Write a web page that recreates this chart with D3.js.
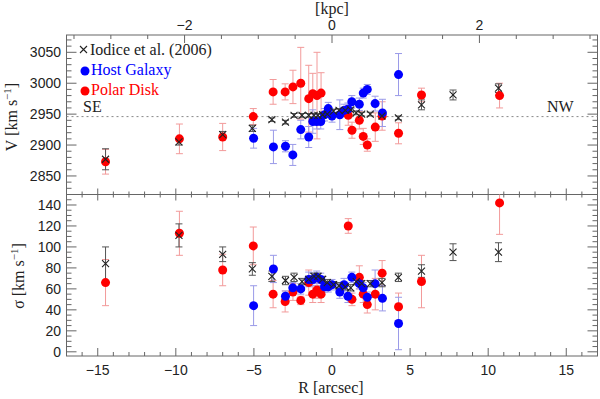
<!DOCTYPE html>
<html>
<head>
<meta charset="utf-8">
<script src="https://cdn.jsdelivr.net/npm/d3@7"></script>
<style>
  body { margin: 0; background: #fff; }
  svg { display: block; }
  .tick-label { font-family: "Liberation Sans", Arial, sans-serif; font-size: 14px; fill: #222; }
  .title { font-family: "Liberation Serif", "Times New Roman", serif; font-size: 16px; fill: #222; }
</style>
</head>
<body>
<svg width="600" height="399"></svg>
<script>
// Iodice et al. (2006)
const iodR      = [-14.5, -9.8, -7.0, -5.1, -3.85, -2.98, -2.43, -1.92, -1.49, -1.15, -0.9, -0.6, -0.3, 0.1, 0.45, 0.85, 1.2, 1.55, 1.9, 2.45, 3.2, 4.25, 5.73, 7.75, 10.66]
const iodV      = [2877, 2905, 2917, 2927, 2941, 2937, 2948, 2948, 2948, 2948, 2948, 2949, 2950, 2955, 2956, 2956, 2957, 2952, 2950, 2950, 2947, 2944, 2965, 2981, 2992]
const iodVerr   = [17, 5, 5, 5, 3, 3, 3, 3, 3, 3, 3, 3, 3, 3, 3, 3, 3, 3, 3, 3, 3, 3, 8, 8, 7]
const iodSig    = [84, 111, 93, 79, 72, 68, 71, 67, 69, 72, 72, 69, 66, 64, 63, 62, 61, 67, 65, 65, 66, 71, 77, 95, 95]
const iodSigErr = [16, 11, 7, 6, 5, 4, 4, 3, 3, 3, 3, 3, 3, 3, 3, 3, 3, 3, 3, 3, 4, 4, 6, 8, 9]

// host galaxy
const hostR      = [-5.02, -3.75, -2.98, -2.51, -2.0, -1.49, -1.23, -0.98, -0.72, -0.48, -0.24, 0.0, 0.5, 0.77, 1.02, 1.27, 1.75, 2.0, 2.26, 2.76, 3.23, 4.26]
const hostV      = [2911, 2897, 2898, 2884, 2925, 2913, 2938, 2938, 2938, 2949, 2959, 2947, 2949, 2956, 2958, 2970, 2966, 2984, 2990, 2967, 2952, 3014]
const hostVerr   = [16, 27, 9, 17, 15, 17, 19, 12, 12, 10, 10, 10, 24, 10, 10, 10, 10, 8, 8, 12, 22, 34]
const hostSig    = [44, 79, 53, 61, 60, 69, 69, 71, 69, 62, 62, 64, 57, 64, 53, 71, 65, 61, 52, 65, 51, 27]
const hostSigErr = [19, 13, 5, 5, 5, 7, 6, 6, 6, 5, 5, 5, 6, 6, 6, 5, 5, 5, 5, 13, 12, 25]

// polar disk
const polarR      = [-14.5, -9.77, -7.0, -5.04, -3.77, -3.0, -2.5, -2.0, -1.49, -1.23, -0.96, -0.7, 1.04, 1.28, 1.75, 2.0, 2.26, 2.77, 3.21, 4.26, 5.73, 10.73]
const polarV      = [2873, 2910, 2913, 2946, 2986, 2986, 2994, 3000, 2975, 2983, 2980, 2984, 2948, 2924, 2940, 2914, 2900, 2929, 2947, 2919, 2981, 2980]
const polarVerr   = [20, 24, 22, 13, 20, 13, 27, 58, 54, 33, 70, 33, 16, 13, 14, 13, 10, 23, 23, 17, 11, 20]
const polarSig    = [66, 113, 78, 101, 55, 48, 57, 49, 66, 55, 59, 55, 120, 50, 71, 55, 45, 55, 75, 43, 67, 142]
const polarSigErr = [22, 21, 15, 18, 13, 10, 8, 4, 12, 8, 8, 8, 7, 6, 11, 8, 8, 15, 12, 13, 25, 30]

const systemicV = 2946
const arcsecPerKpc = 4.72

const svg = d3.select("svg")
const plotL = 66.5, plotR = 597.5, plotT = 35, plotM = 194.5, plotB = 356

const x = d3.scaleLinear().domain([-17, 17]).range([plotL, plotR])
const xk = d3.scaleLinear().domain([-17 / arcsecPerKpc, 17 / arcsecPerKpc]).range([plotL, plotR])
const yV = d3.scaleLinear().domain([2820, 3078]).range([plotM, plotT])
const yS = d3.scaleLinear().domain([-4, 150]).range([plotB, plotM])

const frameColor = "#666"

// clip each panel
const defs = svg.append("defs")
defs.append("clipPath").attr("id", "clipV").append("rect")
  .attr("x", plotL).attr("y", plotT).attr("width", plotR - plotL).attr("height", plotM - plotT)
defs.append("clipPath").attr("id", "clipS").append("rect")
  .attr("x", plotL).attr("y", plotM).attr("width", plotR - plotL).attr("height", plotB - plotM)

// helper to draw inward ticks
function ticks(values, pos, len, vertical, base) {
  values.forEach(v => {
    const p = pos(v)
    if (vertical) svg.append("line").attr("x1", p).attr("x2", p).attr("y1", base).attr("y2", base + len)
      .attr("stroke", frameColor).attr("stroke-width", 1)
    else svg.append("line").attr("y1", p).attr("y2", p).attr("x1", base).attr("x2", base + len)
      .attr("stroke", frameColor).attr("stroke-width", 1)
  })
}

// frames
svg.append("rect").attr("x", plotL).attr("y", plotT).attr("width", plotR - plotL).attr("height", plotB - plotT)
  .attr("fill", "none").attr("stroke", frameColor)
svg.append("line").attr("x1", plotL).attr("x2", plotR).attr("y1", plotM).attr("y2", plotM).attr("stroke", frameColor)

// x ticks (arcsec)
const xMajor = d3.range(-15, 16, 5)
const xMinor = d3.range(-16, 17, 1).filter(v => v % 5 !== 0)
ticks(xMajor, x, -8, true, plotB)
ticks(xMinor, x, -4, true, plotB)
ticks(xMajor, x, -6, true, plotM)
ticks(xMinor, x, -3, true, plotM)
ticks(xMajor, x, 6, true, plotM)
ticks(xMinor, x, 3, true, plotM)
// top axis (kpc)
const kMajor = [-2, 0, 2]
const kMinor = d3.range(-3.5, 3.6, 0.5).filter(v => Math.abs(v % 2) > 0.01)
ticks(kMajor, xk, 8, true, plotT)
ticks(kMinor, xk, 4, true, plotT)

// y ticks
const vMajor = d3.range(2850, 3051, 50)
const vMinor = d3.range(2830, 3071, 10).filter(v => v % 50 !== 0)
const sMajor = d3.range(0, 141, 20)
const sMinor = d3.range(0, 146, 5).filter(v => v % 20 !== 0)
;[[plotL, 1], [plotR, -1]].forEach(([x0, d]) => {
  ticks(vMajor, yV, 10 * d, false, x0)
  ticks(vMinor, yV, 5 * d, false, x0)
  ticks(sMajor, yS, 10 * d, false, x0)
  ticks(sMinor, yS, 5 * d, false, x0)
})

// tick labels
svg.selectAll(".xl").data(xMajor).enter().append("text").attr("class", "tick-label")
  .attr("x", d => x(d)).attr("y", 375).attr("text-anchor", "middle")
  .text(d => d < 0 ? "\u2212" + Math.abs(d) : d)
svg.selectAll(".kl").data(kMajor).enter().append("text").attr("class", "tick-label")
  .attr("x", d => xk(d)).attr("y", 30).attr("text-anchor", "middle")
  .text(d => d < 0 ? "\u2212" + Math.abs(d) : d)
svg.selectAll(".vl").data(vMajor).enter().append("text").attr("class", "tick-label")
  .attr("x", 61).attr("y", d => yV(d) + 5).attr("text-anchor", "end").text(d => d)
svg.selectAll(".sl").data(sMajor).enter().append("text").attr("class", "tick-label")
  .attr("x", 61).attr("y", d => yS(d) + 5).attr("text-anchor", "end").text(d => d)

// titles
svg.append("text").attr("class", "title").attr("x", 331).attr("y", 393).attr("text-anchor", "middle").text("R [arcsec]")
svg.append("text").attr("class", "title").attr("font-size", 15).attr("x", 332).attr("y", 14).attr("text-anchor", "middle").text("[kpc]")

function kmsLabel(sym, cx, cy) {
  const t = svg.append("text").attr("class", "title").attr("text-anchor", "middle")
    .attr("transform", `translate(${cx},${cy}) rotate(-90)`)
  t.append("tspan").text(sym + " [km s")
  t.append("tspan").attr("dy", -6).attr("font-size", 11).text("\u22121")
  t.append("tspan").attr("dy", 6).text("]")
}
kmsLabel("V", 17, 117)
kmsLabel("\u03c3", 24, 276)

// systemic line
svg.append("line").attr("x1", plotL).attr("x2", plotR).attr("y1", yV(systemicV)).attr("y2", yV(systemicV))
  .attr("stroke", "#888").attr("stroke-dasharray", "2,3")
svg.append("text").attr("class", "title").attr("font-size", 14).attr("x", 83).attr("y", 112).text("SE")
svg.append("text").attr("class", "title").attr("font-size", 14).attr("x", 547).attr("y", 112).text("NW")

// data helpers
function errorBars(g, R, val, err, y, color) {
  R.forEach((r, i) => {
    const px = x(r), y1 = y(val[i] - err[i]), y2 = y(val[i] + err[i])
    g.append("line").attr("x1", px).attr("x2", px).attr("y1", y1).attr("y2", y2).attr("stroke", color)
    g.append("line").attr("x1", px - 3.5).attr("x2", px + 3.5).attr("y1", y1).attr("y2", y1).attr("stroke", color)
    g.append("line").attr("x1", px - 3.5).attr("x2", px + 3.5).attr("y1", y2).attr("y2", y2).attr("stroke", color)
  })
}
function dots(g, R, val, y, color) {
  g.selectAll(null).data(R).enter().append("circle")
    .attr("cx", d => x(d)).attr("cy", (d, i) => y(val[i])).attr("r", 4.5).attr("fill", color)
}
function crosses(g, R, val, y) {
  R.forEach((r, i) => {
    const px = x(r), py = y(val[i]), s = 3.5
    g.append("path").attr("d", `M${px - s},${py - s}L${px + s},${py + s}M${px - s},${py + s}L${px + s},${py - s}`)
      .attr("stroke", "#222").attr("stroke-width", 1.1)
  })
}

const panels = [
  ["clipV", yV, polarV, polarVerr, hostV, hostVerr, iodV, iodVerr],
  ["clipS", yS, polarSig, polarSigErr, hostSig, hostSigErr, iodSig, iodSigErr]
]
panels.forEach(([clip, y, pv, pe, hv, he, iv, ie]) => {
  const g = svg.append("g").attr("clip-path", `url(#${clip})`)
  errorBars(g, polarR, pv, pe, y, "#f29a9a")
  errorBars(g, hostR, hv, he, y, "#9a9ae8")
  errorBars(g, iodR, iv, ie, y, "#555")
  dots(g, polarR, pv, y, "#f00")
  dots(g, hostR, hv, y, "#00f")
  crosses(g, iodR, iv, y)
})

// legend
const lg = svg.append("g")
lg.append("path").attr("d", "M80,46L87,53M80,53L87,46").attr("stroke", "#222").attr("stroke-width", 1.1)
lg.append("text").attr("class", "title").attr("font-size", 14).attr("x", 90).attr("y", 55).attr("fill", "#222").text("Iodice et al. (2006)")
lg.append("circle").attr("cx", 85).attr("cy", 71).attr("r", 4.5).attr("fill", "#00f")
lg.append("text").attr("class", "title").attr("font-size", 14).attr("x", 91).attr("y", 75).style("fill", "#00f").text("Host Galaxy")
lg.append("circle").attr("cx", 85).attr("cy", 91).attr("r", 4.5).attr("fill", "#f00")
lg.append("text").attr("class", "title").attr("font-size", 14).attr("x", 91).attr("y", 95).style("fill", "#f00").text("Polar Disk")
</script>
</body>
</html>
